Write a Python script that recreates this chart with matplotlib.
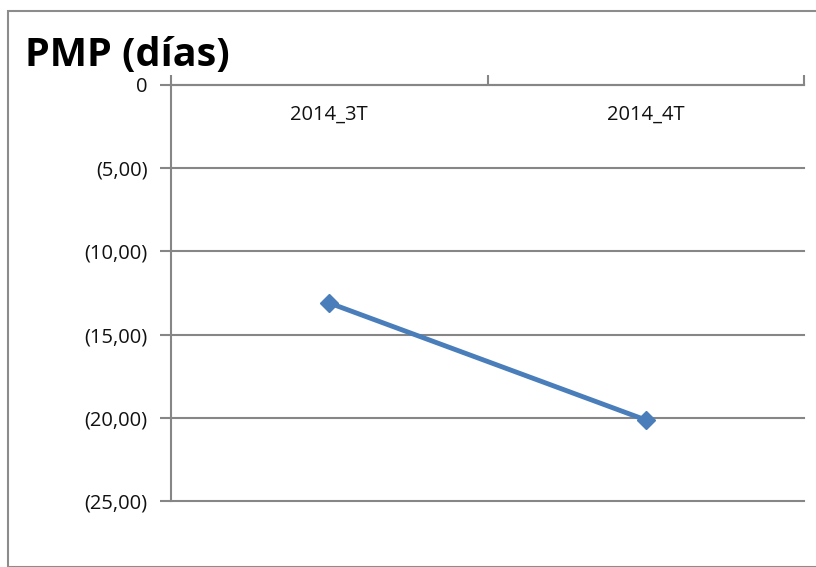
import matplotlib
matplotlib.use("Agg")
import matplotlib.pyplot as plt
from matplotlib.patches import Rectangle
from matplotlib.ticker import FuncFormatter, FixedLocator

# data
periods = ["2014_3T", "2014_4T"]
pmp_days = [-13.10, -20.13]
y_ticks = [0, -5, -10, -15, -20, -25]

W, H = 816, 567
fig = plt.figure(figsize=(W / 100, H / 100), dpi=100)
plt.rcParams['font.family'] = ['Open Sans', 'DejaVu Sans']

# outer chart frame
fig.patches.append(Rectangle((8 / W, 0), 1.0, 1 - 11 / H, transform=fig.transFigure,
                             fill=False, edgecolor='#8c8c8c', linewidth=1.5, zorder=0))

ax = fig.add_axes([171 / W, 1 - 501 / H, (804 - 171) / W, (501 - 85) / H])
grid_c = '#868686'

x = list(range(len(periods)))
ax.plot(x, pmp_days, color='#4A7EBB', linewidth=3.5, marker='D', markersize=9,
        markerfacecolor='#4A7EBB', markeredgecolor='#4A7EBB', zorder=3)

ax.set_xlim(-0.5, len(periods) - 0.5)
ax.set_ylim(-25, 0)

ax.yaxis.set_major_locator(FixedLocator(y_ticks))
ax.yaxis.set_major_formatter(FuncFormatter(
    lambda v, p: "0" if v == 0 else "({:.2f})".format(abs(v)).replace('.', ',')))
ax.grid(axis='y', color=grid_c, linewidth=1.5)
ax.set_axisbelow(True)
for gl in ax.get_ygridlines():
    gl.set_clip_on(False)

# category axis sits at the top (value 0), ticks between categories
ax.xaxis.set_ticks_position('top')
ax.set_xticks([i - 0.5 for i in range(len(periods) + 1)])
ax.set_xticklabels([])
ax.tick_params(axis='x', direction='out', length=7, width=1.5, color=grid_c)
for i, lab in enumerate(periods):
    ax.text(i, -1.8, lab, ha='center', va='center', fontsize=14.5, color='#111111')

ax.tick_params(axis='y', direction='out', length=8, width=1.5, color=grid_c,
               labelsize=14.5, labelcolor='#111111', pad=9)

for s in ['right', 'bottom']:
    ax.spines[s].set_visible(False)
for s in ['left', 'top']:
    ax.spines[s].set_color(grid_c)
    ax.spines[s].set_linewidth(1.5)

fig.text(25 / W, 1 - 55 / H, "PMP (días)", fontsize=28.5, fontweight='bold',
         va='center', ha='left', color='black')

fig.savefig("out.png", dpi=100)
